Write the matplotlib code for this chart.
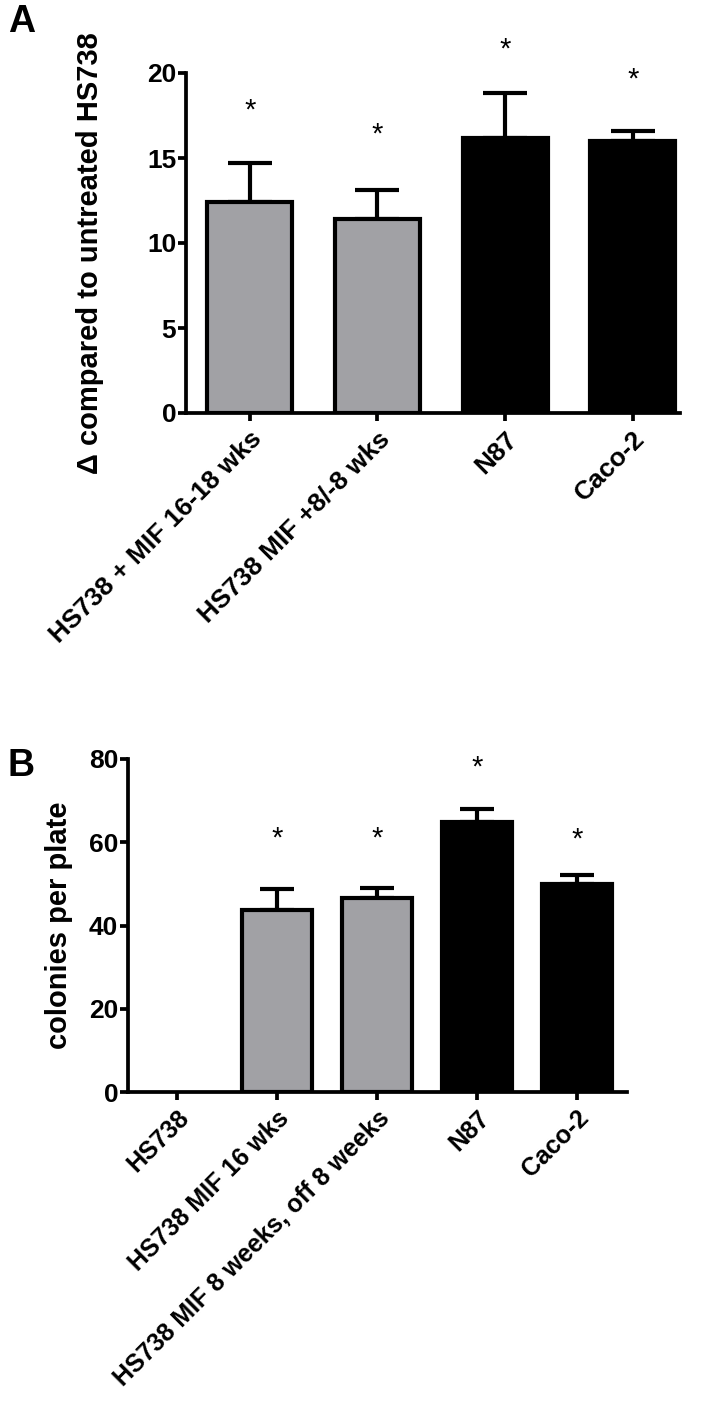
import matplotlib.pyplot as plt

plt.rcParams["font.family"] = ["Liberation Sans", "DejaVu Sans"]
plt.rcParams["font.weight"] = "bold"
plt.rcParams["axes.labelweight"] = "bold"

GRAY = "#a1a1a5"

# Panel A data
a_labels = ["HS738 + MIF 16-18 wks", "HS738 MIF +8/-8 wks", "N87", "Caco-2"]
a_values = [12.4, 11.4, 16.2, 16.0]
a_err = [2.3, 1.7, 2.6, 0.6]
a_star = [17.8, 16.4, 21.4, 19.6]
a_colors = [GRAY, GRAY, "black", "black"]

# Panel B data
b_labels = ["HS738", "HS738 MIF 16 wks", "HS738 MIF 8 weeks, off 8 weeks", "N87", "Caco-2"]
b_values = [0, 43.8, 46.5, 64.8, 49.9]
b_err = [0, 5.0, 2.5, 3.2, 2.3]
b_star = [None, 60.8, 61.0, 77.9, 60.7]
b_colors = ["white", GRAY, GRAY, "black", "black"]

LW = 2.7


def style_axes(ax, xsize):
    for s in ["top", "right"]:
        ax.spines[s].set_visible(False)
    for s in ["left", "bottom"]:
        ax.spines[s].set_linewidth(LW)
    ax.tick_params(axis="both", width=LW, length=6, direction="out")
    ax.tick_params(axis="y", labelsize=19, pad=1)
    ax.tick_params(axis="x", labelsize=xsize, pad=4)


def draw_panel(ax, labels, values, err, stars, colors, width, capsize, xsize):
    x = list(range(len(labels)))
    # empty bars (value 0) get no outline
    lws = [3.0 if v > 0 else 0 for v in values]
    ax.bar(x, values, width=width, color=colors, edgecolor="black",
           linewidth=lws, zorder=3)
    xe = [xi for xi, v in zip(x, values) if v > 0]
    ve = [v for v in values if v > 0]
    ee = [e for e, v in zip(err, values) if v > 0]
    ax.errorbar(xe, ve, yerr=[[0] * len(ee), ee], fmt="none",
                ecolor="black", elinewidth=3.0, capsize=capsize,
                capthick=3.0, zorder=2)
    for xi, s in zip(x, stars):
        if s is not None:
            ax.text(xi, s, "*", ha="center", va="center", fontsize=21,
                    fontweight="normal", clip_on=False)
    ax.set_xticks(x)
    ax.set_xticklabels(labels, rotation=45, ha="right",
                       rotation_mode="anchor")
    style_axes(ax, xsize)


fig = plt.figure(figsize=(7.05, 14.02), dpi=100)
W, H = 705, 1402

# Panel A
axA = fig.add_axes([186 / W, 1 - 413 / H, (680 - 186) / W, (413 - 73) / H])
draw_panel(axA, a_labels, a_values, a_err, a_star, a_colors, 0.665, 16, 19)
axA.set_xlim(-0.5, 3.37)
axA.set_ylim(0, 20)
axA.set_yticks([0, 5, 10, 15, 20])
axA.set_ylabel("\u0394 compared to untreated HS738", fontsize=21)
axA.yaxis.set_label_coords(-0.165, 0.47)

# Panel B
axB = fig.add_axes([128 / W, 1 - 1092 / H, (627 - 128) / W, (1092 - 759) / H])
draw_panel(axB, b_labels, b_values, b_err, b_star, b_colors, 0.70, 12.5, 18)
axB.set_xlim(-0.49, 4.5)
axB.set_ylim(0, 80)
axB.set_yticks([0, 20, 40, 60, 80])
axB.set_ylabel("colonies per plate", fontsize=21)
axB.yaxis.set_label_coords(-0.11, 0.5)

fig.text(8 / W, 1 - 4 / H, "A", fontsize=27, fontweight="bold", va="top")
fig.text(8 / W, 1 - 748 / H, "B", fontsize=27, fontweight="bold", va="top")

fig.savefig("out.png", dpi=100)
